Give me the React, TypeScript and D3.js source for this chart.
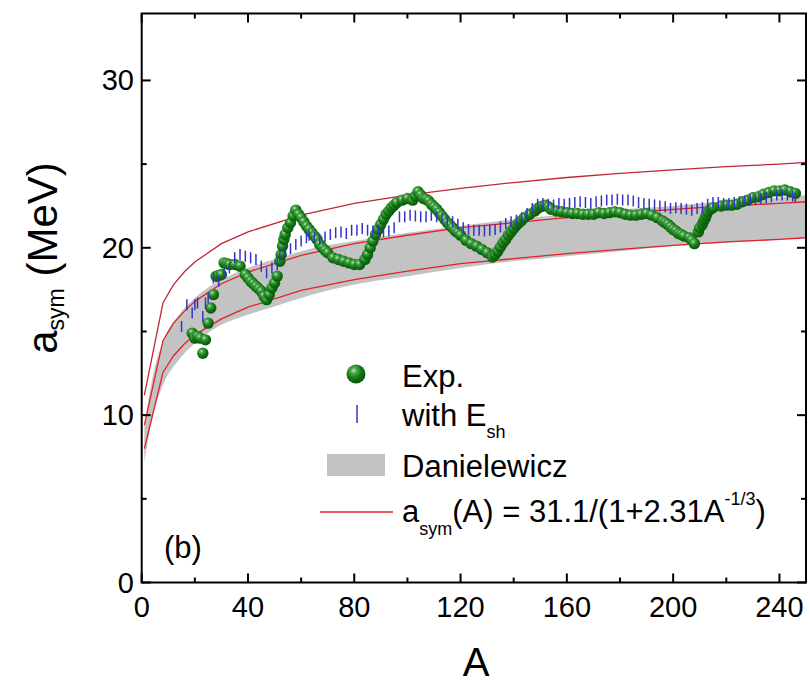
import { useEffect, useRef } from "react";
import * as d3 from "d3";

// ---- data ----
// experimental symmetry energy (green spheres)
const expA = [19, 20, 21, 22, 23, 24, 25, 26, 27, 28, 29, 30, 31, 32, 33, 35, 37, 39, 40, 41, 42, 43, 44, 45, 46, 47, 48, 49, 50, 51, 52, 52.5, 53, 53.5, 54, 55, 56, 57, 58, 59, 60, 61, 62, 63, 64, 65, 66, 67, 68, 69, 70, 72, 74, 76, 78, 80, 82, 84, 85, 86, 87, 88, 89, 90, 91, 92, 93, 94, 95, 96, 98, 100, 102, 103, 104, 105, 106, 107, 108, 109, 110, 111, 112, 113, 114, 115, 116, 117, 118, 119, 120, 122, 124, 126, 128, 130, 132, 133, 134, 135, 136, 137, 138, 139, 140, 141, 142, 143, 144, 146, 148, 149, 150, 151, 152, 153, 154, 156, 158, 160, 162, 164, 166, 168, 170, 172, 174, 176, 178, 180, 182, 184, 186, 188, 190, 192, 194, 196, 197, 198, 199, 200, 201, 202, 203, 204, 206, 207, 208, 209.5, 210, 211, 211.5, 212, 212.5, 213, 214, 215, 218, 220, 222, 224, 226, 228, 230, 232, 234, 236, 238, 240, 242, 244, 246];
const expVal = [14.9, 14.6, 14.7, 14.6, 13.7, 14.5, 15.5, 16.4, 17.2, 18.3, 18.35, 18.4, 19.1, 19.05, 19.0, 19.0, 18.9, 18.4, 18.2, 18.0, 17.85, 17.7, 17.55, 17.4, 17.1, 16.9, 17.2, 17.6, 17.9, 18.3, 19.2, 19.6, 20.1, 20.5, 20.8, 21.2, 21.5, 21.9, 22.25, 22.0, 21.8, 21.55, 21.3, 21.1, 20.9, 20.7, 20.5, 20.2, 20.0, 19.85, 19.7, 19.4, 19.3, 19.2, 19.1, 19.0, 19.0, 19.3, 19.6, 20.0, 20.4, 20.8, 21.1, 21.4, 21.7, 22.0, 22.2, 22.4, 22.55, 22.7, 22.85, 22.95, 22.85, 23.1, 23.35, 23.15, 22.95, 22.9, 22.8, 22.6, 22.45, 22.3, 22.1, 21.9, 21.7, 21.5, 21.35, 21.2, 21.0, 20.9, 20.75, 20.45, 20.25, 20.1, 19.9, 19.7, 19.45, 19.6, 19.8, 20.05, 20.3, 20.5, 20.75, 20.95, 21.15, 21.35, 21.5, 21.65, 21.8, 22.0, 22.2, 22.35, 22.45, 22.5, 22.55, 22.45, 22.3, 22.2, 22.15, 22.1, 22.05, 22.05, 22.0, 22.0, 22.0, 22.1, 22.05, 22.1, 22.15, 22.1, 22.0, 21.95, 21.95, 22.0, 22.05, 21.95, 21.8, 21.6, 21.5, 21.4, 21.25, 21.1, 21.0, 20.85, 20.8, 20.7, 20.6, 20.45, 20.25, 20.95, 21.2, 21.4, 21.6, 21.75, 21.95, 22.15, 22.3, 22.4, 22.5, 22.55, 22.55, 22.6, 22.75, 22.85, 23.0, 23.05, 23.2, 23.3, 23.4, 23.4, 23.45, 23.35, 23.25];

// with shell energy (blue bars)
const shA = [15, 17, 19, 20, 21, 23, 24, 25, 27, 29, 31, 33, 35, 37, 39, 41, 43, 45, 47, 49, 51, 52, 54, 56, 58, 60, 62, 63, 65, 67, 69, 71, 73, 75, 77, 79, 81, 83, 85, 87, 89, 91, 93, 95, 97, 99, 101, 103, 105, 107, 109, 111, 113, 115, 117, 119, 121, 123, 125, 127, 129, 131, 133, 135, 137, 139, 141, 143, 145, 147, 149, 151, 153, 155, 157, 159, 161, 163, 165, 167, 169, 171, 173, 175, 177, 179, 181, 183, 185, 187, 189, 191, 193, 195, 197, 199, 201, 203, 205, 207, 209, 211, 213, 215, 217, 219, 221, 223, 225, 227, 229, 231, 233, 235, 237, 239, 241, 243, 245, 246];
const shVal = [15.3, 16.6, 16.1, 16.6, 16.7, 15.9, 16.7, 17.0, 18.2, 18.0, 18.5, 18.8, 19.4, 19.6, 19.5, 19.4, 19.3, 18.9, 18.5, 18.8, 19.0, 19.5, 19.8, 19.95, 20.2, 20.4, 20.6, 20.75, 20.6, 20.5, 20.65, 20.8, 20.9, 20.95, 20.85, 21.05, 21.05, 21.15, 21.05, 21.0, 21.05, 20.95, 21.0, 21.2, 21.85, 21.85, 21.95, 21.9, 21.85, 21.85, 21.95, 21.85, 21.75, 21.65, 21.55, 21.4, 21.2, 21.1, 21.05, 21.05, 21.0, 21.05, 21.1, 21.25, 21.45, 21.55, 21.65, 21.8, 22.05, 22.35, 22.6, 22.65, 22.6, 22.55, 22.65, 22.6, 22.65, 22.7, 22.75, 22.7, 22.65, 22.75, 22.8, 22.85, 22.85, 22.9, 22.85, 22.85, 22.8, 22.7, 22.65, 22.6, 22.55, 22.5, 22.45, 22.35, 22.4, 22.35, 22.3, 22.25, 22.35, 22.4, 22.6, 22.7, 22.7, 22.65, 22.65, 22.7, 22.75, 22.8, 22.85, 22.9, 22.95, 23.0, 23.05, 23.15, 23.15, 23.15, 23.1, 23.05];

// Danielewicz band (gray)
const bandA = [1, 4, 8, 14, 20, 30, 40, 52, 60, 80, 100, 120, 140, 160, 180, 200, 220, 240, 250];
const bandTop = [9.3, 12.2, 14.4, 16.0, 17.0, 18.1, 18.8, 19.4, 19.8, 20.4, 20.9, 21.3, 21.7, 22.0, 22.3, 22.5, 22.8, 23.0, 23.15];
const bandBottom = [7.2, 9.8, 11.8, 13.3, 14.3, 15.4, 16.0, 16.6, 17.0, 17.8, 18.3, 18.8, 19.2, 19.5, 19.8, 20.1, 20.3, 20.5, 20.6];

// a_sym(A) curves (red)
const curveA = [1, 8, 12, 16, 20, 30, 40, 60, 80, 100, 120, 140, 160, 180, 200, 220, 240, 250];
const curveUpper = [11.2, 16.7, 17.8, 18.55, 19.15, 20.25, 20.95, 21.95, 22.65, 23.15, 23.55, 23.9, 24.2, 24.45, 24.65, 24.85, 25.0, 25.1];
const curveMiddle = [9.4, 14.45, 15.5, 16.2, 16.8, 17.85, 18.55, 19.55, 20.25, 20.75, 21.2, 21.5, 21.8, 22.05, 22.3, 22.5, 22.65, 22.75];
const curveLower = [8.0, 12.55, 13.55, 14.25, 14.8, 15.75, 16.45, 17.45, 18.1, 18.6, 19.05, 19.35, 19.65, 19.9, 20.15, 20.35, 20.5, 20.6];

const xTicks = [0, 40, 80, 120, 160, 200, 240];
const yTicks = [0, 10, 20, 30];

const FONT = "'Liberation Sans', Arial, sans-serif";

function Chart({ width, height }: { width: number; height: number }) {
  const svgRef = useRef<SVGSVGElement | null>(null);

  useEffect(() => {
    const svg = d3.select(svgRef.current);
    svg.selectAll("*").remove();

    const left = 141.7, right = 806, top = 13.5, bottom = 582.5;
    const x = d3.scaleLinear().domain([0, 250]).range([left, right]);
    const y = d3.scaleLinear().domain([0, 34]).range([bottom, top]);

    const defs = svg.append("defs");
    defs.append("clipPath").attr("id", "plotClip")
      .append("rect").attr("x", left).attr("y", top)
      .attr("width", right - left).attr("height", bottom - top);

    const grad = defs.append("radialGradient").attr("id", "ball")
      .attr("cx", "38%").attr("cy", "32%").attr("r", "65%");
    grad.append("stop").attr("offset", "0%").attr("stop-color", "#cfe8c8");
    grad.append("stop").attr("offset", "22%").attr("stop-color", "#52a852");
    grad.append("stop").attr("offset", "60%").attr("stop-color", "#147a14");
    grad.append("stop").attr("offset", "100%").attr("stop-color", "#0a5a0a");

    const plot = svg.append("g").attr("clip-path", "url(#plotClip)");

    // 1) gray band
    const band = bandA.map((a, i) => ({ a, t: bandTop[i], b: bandBottom[i] }));
    plot.append("path")
      .datum(band)
      .attr("fill", "#c3c3c3")
      .attr("d", d3.area<any>().x((d) => x(d.a)).y0((d) => y(d.b)).y1((d) => y(d.t)).curve(d3.curveMonotoneX));

    // 2) red curves
    const line = d3.line<[number, number]>().x((d) => x(d[0])).y((d) => y(d[1]));
    [
      { vals: curveUpper, color: "#c02838" },
      { vals: curveMiddle, color: "#e4202a" },
      { vals: curveLower, color: "#e4202a" },
    ].forEach((c) => {
      plot.append("path")
        .datum(curveA.map((a, i) => [a, c.vals[i]] as [number, number]))
        .attr("fill", "none")
        .attr("stroke", c.color)
        .attr("stroke-width", 1.3)
        .attr("d", line);
    });

    // 3) experimental points
    plot.append("g").selectAll("circle")
      .data(expA.map((a, i) => ({ a, v: expVal[i] })))
      .enter()
      .append("circle")
      .attr("cx", (d) => x(d.a))
      .attr("cy", (d) => y(d.v))
      .attr("r", 5.7)
      .attr("fill", "url(#ball)");

    // 4) blue bars
    plot.append("g").selectAll("line")
      .data(shA.map((a, i) => ({ a, v: shVal[i] })))
      .enter()
      .append("line")
      .attr("x1", (d) => x(d.a)).attr("x2", (d) => x(d.a))
      .attr("y1", (d) => y(d.v) - 5.5).attr("y2", (d) => y(d.v) + 5.5)
      .attr("stroke", "#3434c8")
      .attr("stroke-width", 1.5);

    // 5) frame + ticks (inward on all four sides)
    const ax = svg.append("g").attr("stroke", "#000");
    ax.append("rect").attr("x", left).attr("y", top)
      .attr("width", right - left).attr("height", bottom - top)
      .attr("fill", "none").attr("stroke-width", 2);

    d3.range(0, 251, 20).forEach((t) => {
      const len = t % 40 === 0 ? 9 : 5;
      ax.append("line").attr("x1", x(t)).attr("x2", x(t)).attr("y1", bottom).attr("y2", bottom - len).attr("stroke-width", 2);
      ax.append("line").attr("x1", x(t)).attr("x2", x(t)).attr("y1", top).attr("y2", top + len).attr("stroke-width", 2);
    });
    d3.range(0, 34, 5).forEach((t) => {
      const len = t % 10 === 0 ? 9 : 5;
      ax.append("line").attr("y1", y(t)).attr("y2", y(t)).attr("x1", left).attr("x2", left + len).attr("stroke-width", 2);
      ax.append("line").attr("y1", y(t)).attr("y2", y(t)).attr("x1", right).attr("x2", right - len).attr("stroke-width", 2);
    });

    const txt = svg.append("g").attr("font-family", FONT).attr("fill", "#000");

    xTicks.forEach((t) => {
      txt.append("text").attr("x", x(t)).attr("y", 617)
        .attr("text-anchor", "middle").attr("font-size", 29).text(t);
    });
    yTicks.forEach((t) => {
      txt.append("text").attr("x", 134).attr("y", y(t) + 10)
        .attr("text-anchor", "end").attr("font-size", 29).text(t);
    });

    // axis titles
    txt.append("text").attr("x", 476).attr("y", 676)
      .attr("text-anchor", "middle").attr("font-size", 40).text("A");

    const yl = txt.append("text")
      .attr("transform", "translate(57,258) rotate(-90)")
      .attr("text-anchor", "middle").attr("font-size", 42);
    yl.append("tspan").text("a");
    yl.append("tspan").attr("font-size", 23).attr("dy", 7).text("sym");
    yl.append("tspan").attr("dy", -7).text(" (MeV)");

    // panel label
    txt.append("text").attr("x", 164).attr("y", 558).attr("font-size", 31).text("(b)");

    // legend
    const lg = svg.append("g");
    lg.append("circle").attr("cx", 356).attr("cy", 374).attr("r", 9.5).attr("fill", "url(#ball)");
    lg.append("line").attr("x1", 357).attr("x2", 357).attr("y1", 405).attr("y2", 423)
      .attr("stroke", "#3434c8").attr("stroke-width", 1.5);
    lg.append("rect").attr("x", 327).attr("y", 454).attr("width", 58).attr("height", 22).attr("fill", "#c3c3c3");
    lg.append("line").attr("x1", 320).attr("x2", 393).attr("y1", 512).attr("y2", 512)
      .attr("stroke", "#e4202a").attr("stroke-width", 1.3);

    const lt = svg.append("g").attr("font-family", FONT).attr("font-size", 31).attr("fill", "#000");
    lt.append("text").attr("x", 402).attr("y", 387).text("Exp.");
    const w = lt.append("text").attr("x", 402).attr("y", 426);
    w.append("tspan").text("with E");
    w.append("tspan").attr("font-size", 18).attr("dy", 12).text("sh");
    lt.append("text").attr("x", 402).attr("y", 477).text("Danielewicz");
    const f = lt.append("text").attr("x", 402).attr("y", 522);
    f.append("tspan").text("a");
    f.append("tspan").attr("font-size", 18).attr("dy", 13).text("sym");
    f.append("tspan").attr("dy", -13).text("(A) = 31.1/(1+2.31A");
    f.append("tspan").attr("font-size", 18).attr("dy", -17).text("-1/3");
    f.append("tspan").attr("dy", 17).text(")");
  }, [width, height]);

  return (
    <svg
      ref={svgRef}
      width={width}
      height={height}
      style={{ position: "absolute", left: 0, top: 0, background: "#fff" }}
    />
  );
}

export default function App() {
  return <Chart width={810} height={683} />;
}
